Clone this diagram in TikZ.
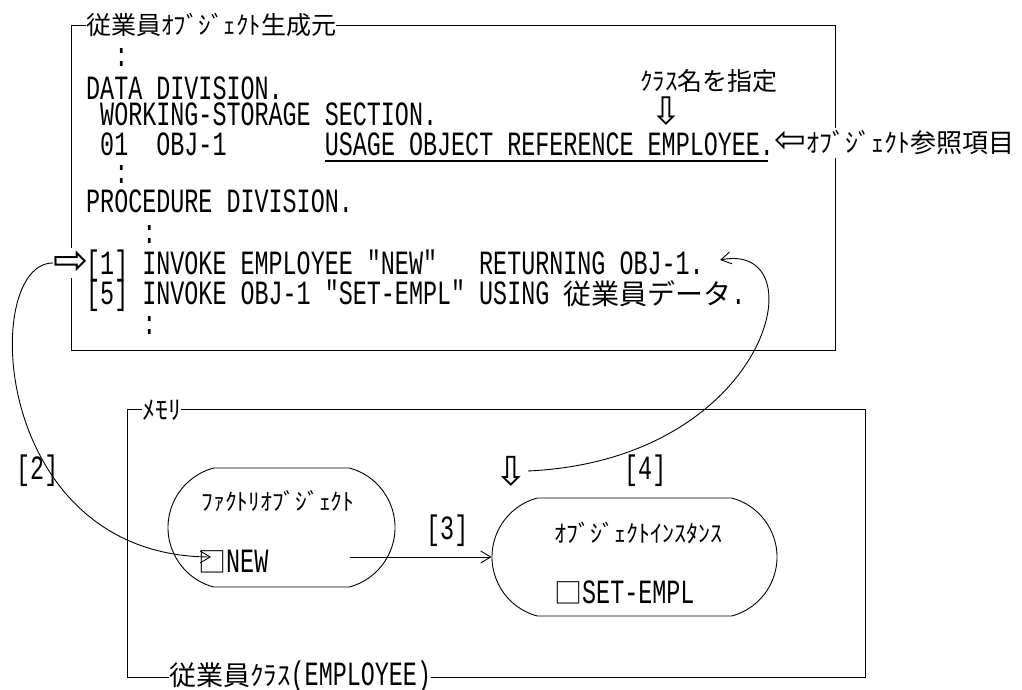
\documentclass[tikz,border=0pt]{standalone}
\usepackage{fontspec}
\usetikzlibrary{arrows.meta,shapes.misc}
\newfontfamily\cob[FakeStretch=0.688]{Liberation Mono}
\newfontfamily\jp{Noto Sans CJK JP}
\newfontfamily\sym{DejaVu Sans}
\newcommand\J[1]{{\jp\fontsize{28}{30}\selectfont #1}}
\tikzset{
  code/.style={anchor=base west, inner sep=0pt, font=\cob\fontsize{34}{36}\selectfont},
  jtxt/.style={inner sep=0pt, font=\jp\fontsize{#1}{#1}\selectfont},
  frame/.style={draw, line width=1.3pt, inner sep=0pt},
  boxtitle/.style={fill=white, inner xsep=1pt, inner ysep=0pt, anchor=west},
  oval/.style={draw, rounded rectangle, rounded rectangle arc length=150, inner sep=0pt, line width=0.9pt},
  curve/.style={line width=0.9pt, -{Straight Barb[length=10pt,width=12pt]}},
  hollow/.style={inner sep=0pt, font=\sym\fontsize{#1}{#1}\selectfont}
}
\begin{document}
\begin{tikzpicture}[x=1pt,y=-1pt]
\useasboundingbox (0,0) rectangle (1022,690);
% source program box
\node[frame, anchor=north west, minimum width=764pt, minimum height=325pt] (srcbox) at (71,25) {};
\node[boxtitle, jtxt=25] (srctitle) at (86,25) {従業員ｵﾌﾞｼﾞｪｸﾄ生成元};
\node[code] (r0) at (114.08,67) {:};
\node[code] (r1) at (86,100) {DATA DIVISION.};
\node[code] (r2) at (100.04,125) {WORKING-STORAGE SECTION.};
\node[code] (r3a) at (100.04,155) {01~~OBJ-1};
\node[code] (r3b) at (324.68,155) {USAGE OBJECT REFERENCE EMPLOYEE.};
\draw[line width=1.3pt, shorten >=6pt] ([yshift=-6pt]r3b.base west) -- ([yshift=-6pt]r3b.base east);
\node[code] (r4) at (114.08,183) {:};
\node[code] (r5) at (86,212) {PROCEDURE DIVISION.};
\node[code] (r6) at (142.16,243) {:};
\node[code] (r7) at (86,274) {[1] INVOKE EMPLOYEE "NEW"~~~RETURNING OBJ-1.};
\node[code] (r8) at (86,304) {[5] INVOKE OBJ-1 "SET-EMPL" USING \J{従業員データ}.};
\node[code] (r9) at (142.16,334) {:};
\node[jtxt=25, anchor=west] (classname) at (640,81) {ｸﾗｽ名を指定};
\node[hollow=38] (classarrow) at (666,111) {⇩};
\node[anchor=west, fill=white, inner sep=0pt, minimum height=30pt] (reflabel) at (774,143)
  {{\sym\fontsize{38}{38}\selectfont ⇦}{\jp\fontsize{26}{26}\selectfont ｵﾌﾞｼﾞｪｸﾄ参照項目}};
\node[hollow=42, fill=white, minimum height=30pt] (inarrow) at (71,263) {⇨};
% memory box
\node[frame, anchor=north west, minimum width=738pt, minimum height=268pt] (membox) at (127,409) {};
\node[boxtitle, jtxt=26] (memtitle) at (142,410) {ﾒﾓﾘ\hspace{15pt}};
\node[boxtitle, inner sep=0pt] (classtitle) at (169,677)
  {{\jp\fontsize{27}{27}\selectfont 従業員ｸﾗｽ}{\cob\fontsize{34}{34}\selectfont (EMPLOYEE)}\hspace{18pt}};
% factory object
\node[oval, minimum width=227pt, minimum height=119pt] (factory) at (281.5,527.5) {};
\node[jtxt=23.5] (factorytxt) at (278,501) {ﾌｧｸﾄﾘｵﾌﾞｼﾞｪｸﾄ};
\node[code] (newtxt) at (198,572) {\J{□}NEW};
% object instance
\node[oval, minimum width=285pt, minimum height=118pt] (inst) at (634.5,557) {};
\node[jtxt=24] (insttxt) at (638,533) {ｵﾌﾞｼﾞｪｸﾄｲﾝｽﾀﾝｽ};
\node[code] (settxt) at (554,603) {\J{□}SET-EMPL};
% step labels
\node[code] (l2) at (16,479) {[2]};
\node[code] (l3) at (426,539) {[3]};
\node[code] (l4) at (624,479) {[4]};
\node[hollow=40] (down) at (511,471) {⇩};
% connectors
\coordinate (newin) at (211,557);
\coordinate (newout) at (350,557);
\coordinate (objret) at (720,260);
\draw[curve] (inarrow.west) .. controls (-20,262) and (-10,556) .. (newin);
\draw[curve] (newout) -- (inst.west);
\draw[curve] (down.east) .. controls (770,460) and (820,240) .. (objret);
\end{tikzpicture}
\end{document}
